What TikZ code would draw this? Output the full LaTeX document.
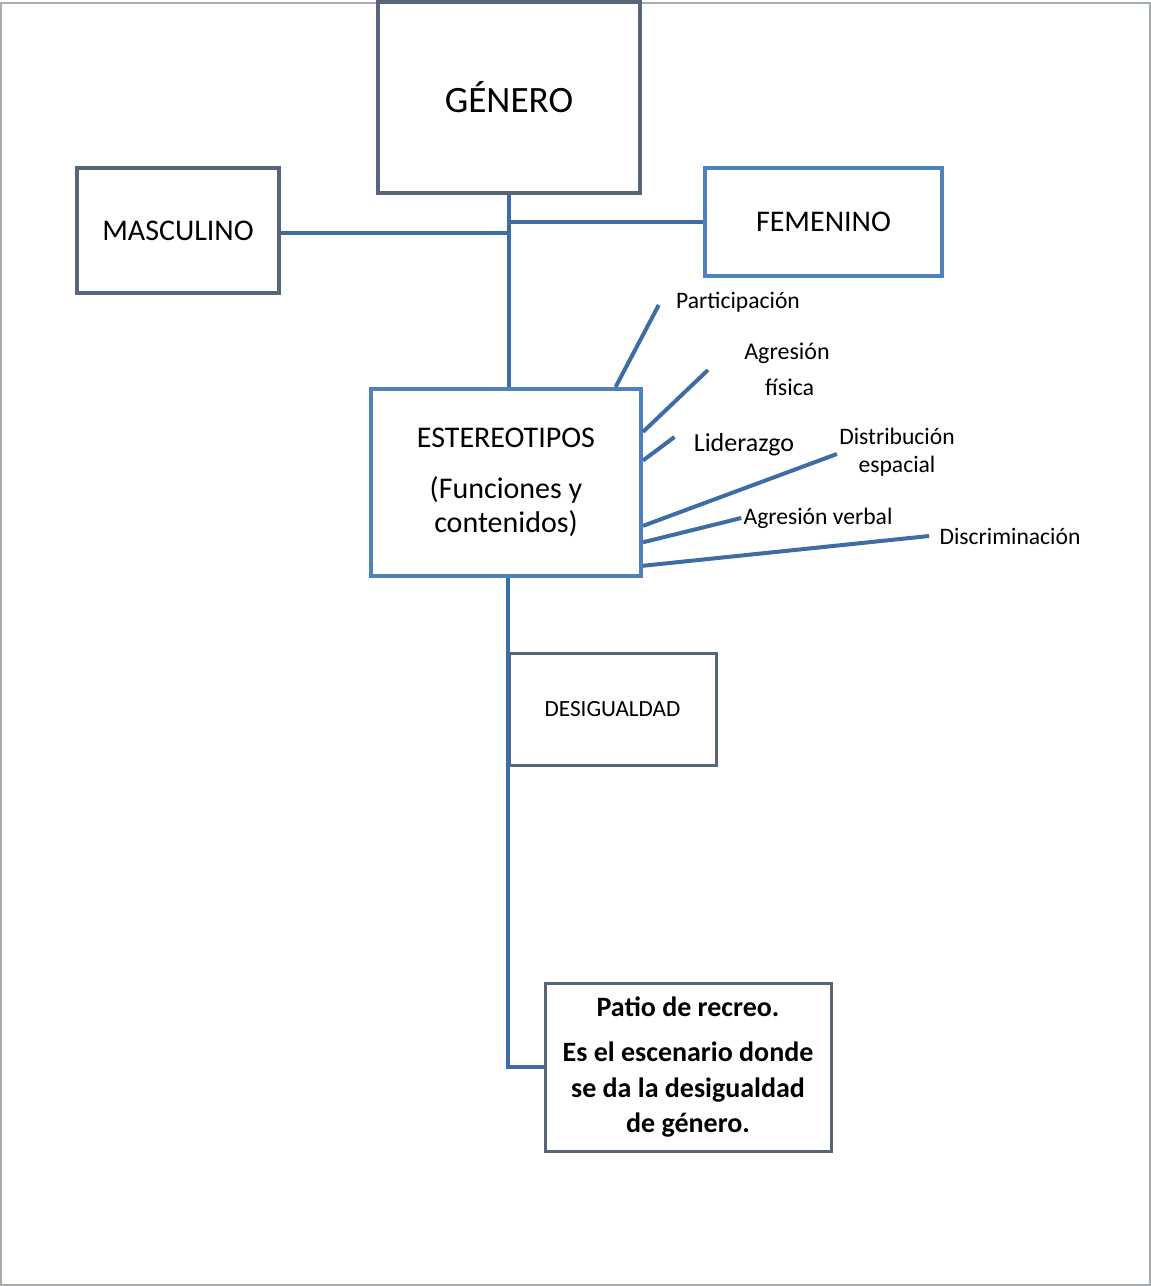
\documentclass[tikz,border=0pt]{standalone}
\usepackage{fontspec}
\setmainfont{Carlito}
\usetikzlibrary{calc}
\definecolor{cajagris}{RGB}{88,100,120}
\definecolor{cajaazul}{RGB}{79,129,189}
\definecolor{linea}{RGB}{62,108,165}
\definecolor{marco}{RGB}{165,172,178}

\begin{document}
\begin{tikzpicture}[x=0.5pt,y=-0.5pt,
	caja/.style={draw=cajagris,line width=2pt,fill=white,align=center,inner sep=2pt},
	cajaaz/.style={caja,draw=cajaazul},
	rama/.style={draw=linea,line width=2pt},
	etiq/.style={inner sep=1pt,align=center,font=\fontsize{11.8}{14}\selectfont}]

	\useasboundingbox (0,0) rectangle (1151,1286);
	\draw[marco,line width=1pt] (1,3) rectangle (1150,1285);

	% cajas
	\node[caja,minimum width=131pt,minimum height=95.5pt,font=\fontsize{18.6}{22}\selectfont] (genero) at (509,97.5) {GÉNERO};
	\node[caja,minimum width=101pt,minimum height=62.5pt,font=\fontsize{15}{18}\selectfont] (masc) at (178,230.5) {MASCULINO};
	\node[cajaaz,minimum width=118.5pt,minimum height=54pt,font=\fontsize{15}{18}\selectfont] (fem) at (823.5,222) {FEMENINO};
	\node[cajaaz,minimum width=135pt,minimum height=93.5pt,font=\fontsize{15}{17}\selectfont] (est) at (506,482.5) {ESTEREOTIPOS\\[8.5pt](Funciones y\\contenidos)};
	\node[caja,minimum width=103.5pt,minimum height=56pt,line width=1.5pt,font=\fontsize{11.6}{14}\selectfont] (desig) at (612.5,709) {DESIGUALDAD};
	\node[caja,minimum width=143pt,minimum height=84pt,line width=1.5pt,font=\fontsize{14}{17.75}\selectfont\bfseries] (patio) at (688,1067) {Patio de recreo.\\[5pt]Es el escenario donde\\se da la desigualdad\\de género.};

	% etiquetas
	\node[etiq] (part) at (738,302) {Participación};
	\node[etiq,font=\fontsize{12}{18}\selectfont] (agf) at (787,369) {Agresión\\\ f{}ísica};
	\node[etiq,font=\fontsize{13}{15}\selectfont] (lid) at (744,445) {Liderazgo};
	\node[etiq] (dist) at (897,452) {Distribución\\espacial};
	\node[etiq] (agv) at (818,518) {Agresión verbal};
	\node[etiq] (disc) at (1010,536) {Discriminación};

	% conectores
	\draw[rama] (genero.south) -- (genero.south |- est.north);
	\draw[rama] ([yshift=-1.25pt]masc.east) -- ([yshift=-1.25pt]masc.east -| genero.south);
	\draw[rama] (fem.west) -- (fem.west -| genero.south);
	\draw[rama] (est.south -| desig.west) -- (desig.west |- patio.west) -- (patio.west);

	\draw[rama] ($(est.north west)!0.9!(est.north east)$) -- ([xshift=-7.5pt,yshift=-1.5pt]part.west);
	\draw[rama] ($(est.north east)!0.235!(est.south east)$) -- ([xshift=-17pt]agf.north west |- 0,370);
	\draw[rama] ($(est.north east)!0.385!(est.south east)$) -- ([xshift=-8.5pt,yshift=4pt]lid.west);
	\draw[rama] ($(est.north east)!0.727!(est.south east)$) -- ([yshift=-1pt]dist.west);
	\draw[rama] ($(est.north east)!0.813!(est.south east)$) -- (agv.west);
	\draw[rama] ($(est.north east)!0.936!(est.south east)$) -- ([xshift=-4pt]disc.west);
\end{tikzpicture}
\end{document}
